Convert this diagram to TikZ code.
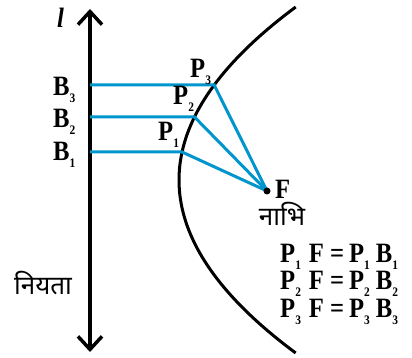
\documentclass[tikz,border=0pt]{standalone}
\usepackage{fontspec}
\setmainfont[FakeStretch=0.88]{Liberation Serif}
\newfontfamily\deva[Script=Devanagari]{Noto Sans}
\usetikzlibrary{arrows.meta}
\definecolor{rayblue}{RGB}{0,150,205}
\newcommand\sbs[1]{\raisebox{-0.25em}{\fontsize{13}{13}\selectfont #1}}
\newcommand\eqline[1]{P\sbs{#1}\hspace{8pt}F\hspace{6pt}=\hspace{5pt}P\sbs{#1}\hspace{6pt}B\sbs{#1}}
\tikzset{
  lbl/.style={inner sep=0pt, font=\fontsize{28}{30}\selectfont\bfseries},
  dlbl/.style={inner sep=0pt, font=\fontsize{26}{28}\selectfont\deva},
  ray/.style={rayblue, line width=3pt, line join=miter},
  axis/.style={line width=4pt, {Straight Barb[length=13pt,width=24pt,line width=3.5pt]}-{Straight Barb[length=13pt,width=24pt,line width=3.5pt]}},
  curve/.style={line width=3pt}
}
\begin{document}
\begin{tikzpicture}[x=1pt,y=-1pt]
\useasboundingbox (0,0) rectangle (412,358);
% directrix
\coordinate (top) at (90,9);
\coordinate (bot) at (90,352);
\draw[axis] (bot) -- (top);
% parabola
\draw[curve] plot[domain=-1.73:1.73, samples=80] ({179+39*\x*\x}, {180+100*\x});
% points
\coordinate (F) at (267,191);
\coordinate (B1) at (90,152);
\coordinate (B2) at (90,117);
\coordinate (B3) at (90,85);
\coordinate (P1) at ({179+39*0.28*0.28},152);
\coordinate (P2) at ({179+39*0.63*0.63},117);
\coordinate (P3) at ({179+39*0.95*0.95},85);
\draw[ray] (B1) -- (P1) -- (F);
\draw[ray] (B2) -- (P2) -- (F);
\draw[ray] (B3) -- (P3) -- (F);
\fill (F) circle (3.5pt);
% labels
\node[lbl, anchor=base west] (lbB3) at (53,96) {B\sbs{3}};
\node[lbl, anchor=base west] (lbB2) at (53,128) {B\sbs{2}};
\node[lbl, anchor=base west] (lbB1) at (53,161) {B\sbs{1}};
\node[lbl, anchor=base west] (lbP3) at (190,78) {P\sbs{3}};
\node[lbl, anchor=base west] (lbP2) at (173,105) {P\sbs{2}};
\node[lbl, anchor=base west] (lbP1) at (158,141) {P\sbs{1}};
\node[lbl, anchor=base west, font=\fontsize{28}{30}\selectfont\bfseries\itshape] (lbl) at (57,28) {l};
\node[lbl, anchor=base west] (lbF) at (275,198) {F};
\node[dlbl] (nabhi) at (282,214) {नाभि};
\node[dlbl] (niyata) at (43,283) {नियता};
\node[lbl, anchor=base west] (eq1) at (280,262) {\eqline{1}};
\node[lbl, anchor=base west] (eq2) at (280,289) {\eqline{2}};
\node[lbl, anchor=base west] (eq3) at (280,317) {\eqline{3}};
\end{tikzpicture}
\end{document}
